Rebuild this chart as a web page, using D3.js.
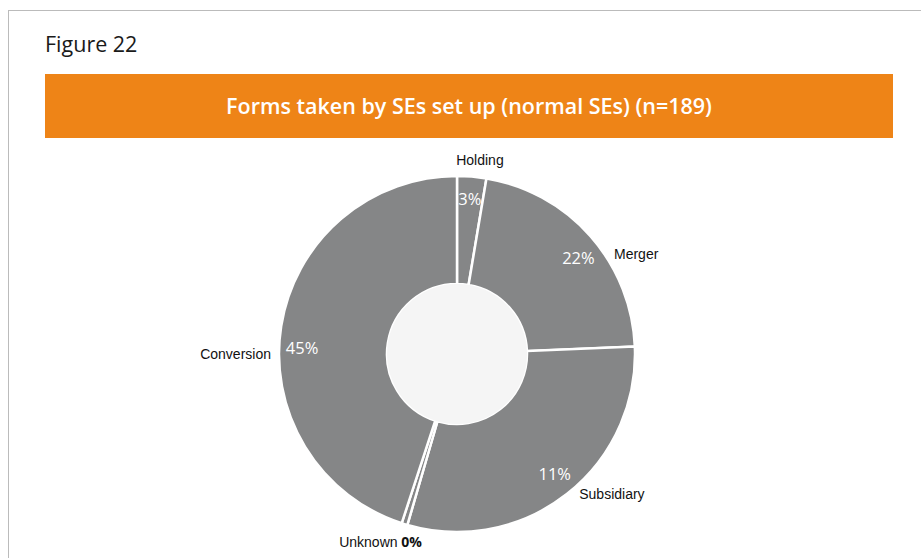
<!DOCTYPE html>
<html>
<head>
<meta charset="utf-8">
<script src="https://cdn.jsdelivr.net/npm/d3@7"></script>
<style>
  body { margin: 0; background: #fff; }
  svg { display: block; }
</style>
</head>
<body>
<div id="chart"></div>
<script>
  // slice sizes (counts out of n=189)
  const categories = ['Holding', 'Merger', 'Subsidiary', 'Unknown', 'Conversion'];
  const counts = [5, 41, 57, 1, 85];
  // percentage labels as printed on the chart
  const pctLabels = ['3%', '22%', '11%', '0%', '45%'];

  const width = 921;
  const height = 558;
  const cx = 457;
  const cy = 354;
  const outerR = 178;
  const innerR = 70;

  const svg = d3.select('#chart')
                .append('svg')
                .attr('width', width)
                .attr('height', height);

  // dotted frame
  svg.append('rect')
     .attr('x', 8.5)
     .attr('y', 10.5)
     .attr('width', 940)
     .attr('height', 600)
     .attr('fill', 'none')
     .attr('stroke', '#777')
     .attr('stroke-width', 1)
     .attr('stroke-dasharray', '1,1');

  svg.append('text')
     .attr('x', 45)
     .attr('y', 52)
     .attr('font-family', 'Open Sans, sans-serif')
     .attr('font-size', 21.5)
     .attr('fill', '#1a1a1a')
     .text('Figure 22');

  svg.append('rect')
     .attr('x', 45)
     .attr('y', 74)
     .attr('width', 848)
     .attr('height', 64)
     .attr('fill', '#ee8417');

  svg.append('text')
     .attr('x', 469)
     .attr('y', 114)
     .attr('text-anchor', 'middle')
     .attr('font-family', 'Open Sans, sans-serif')
     .attr('font-weight', 600)
     .attr('font-size', 21.5)
     .attr('fill', '#fff')
     .text('Forms taken by SEs set up (normal SEs) (n=189)');

  const data = categories.map((c, i) => ({ cat: c, value: counts[i], pct: pctLabels[i] }));

  const pie = d3.pie().sort(null).value(d => d.value);
  const arcs = pie(data);

  const arc = d3.arc().innerRadius(innerR).outerRadius(outerR);

  const g = svg.append('g').attr('transform', 'translate(' + cx + ',' + cy + ')');

  g.selectAll('path.slice')
   .data(arcs)
   .enter()
   .append('path')
   .attr('class', 'slice')
   .attr('d', arc)
   .attr('fill', '#858687')
   .attr('stroke', '#fff')
   .attr('stroke-width', 2.5)
   .attr('stroke-linejoin', 'miter');

  g.append('circle')
   .attr('r', innerR)
   .attr('fill', '#f5f5f5');

  const rad = deg => deg * Math.PI / 180;
  const pos = (deg, r) => [r * Math.sin(rad(deg)), -r * Math.cos(rad(deg))];
  const midDeg = a => (a.startAngle + a.endAngle) / 2 * 180 / Math.PI;

  // label placement tweaks (degrees added to slice mid angle)
  const innerNudge = { Holding: 0, Merger: 3, Subsidiary: -1, Conversion: -7 };
  const outerPlace = {
    Holding:    { da: 2,   r: 195, anchor: 'middle' },
    Merger:     { da: 9,   r: 186, anchor: 'start' },
    Subsidiary: { da: -3,  r: 186, anchor: 'start' },
    Unknown:    { da: 5,   r: 203, anchor: 'middle' },
    Conversion: { da: -9,  r: 186, anchor: 'end' }
  };

  // percentages inside the ring
  arcs.filter(a => a.data.cat !== 'Unknown').forEach(a => {
    const p = pos(midDeg(a) + innerNudge[a.data.cat], 155);
    g.append('text')
     .attr('x', p[0])
     .attr('y', p[1])
     .attr('dy', '0.36em')
     .attr('text-anchor', 'middle')
     .attr('font-family', 'Open Sans, sans-serif')
     .attr('font-size', 16.5)
     .attr('fill', '#fff')
     .text(a.data.pct);
  });

  // category names outside
  arcs.forEach(a => {
    const o = outerPlace[a.data.cat];
    const p = pos(midDeg(a) + o.da, o.r);
    const t = g.append('text')
               .attr('x', p[0])
               .attr('y', p[1])
               .attr('dy', '0.36em')
               .attr('text-anchor', o.anchor)
               .attr('font-family', 'Liberation Sans Narrow, Arial Narrow, sans-serif')
               .attr('font-size', 14)
               .attr('fill', '#111')
               .text(a.data.cat);
    if (a.data.cat === 'Unknown') {
      t.append('tspan')
       .attr('font-family', 'Open Sans, sans-serif')
       .attr('font-weight', 700)
       .attr('font-size', 14)
       .text(' ' + a.data.pct);
    }
  });
</script>
</body>
</html>
